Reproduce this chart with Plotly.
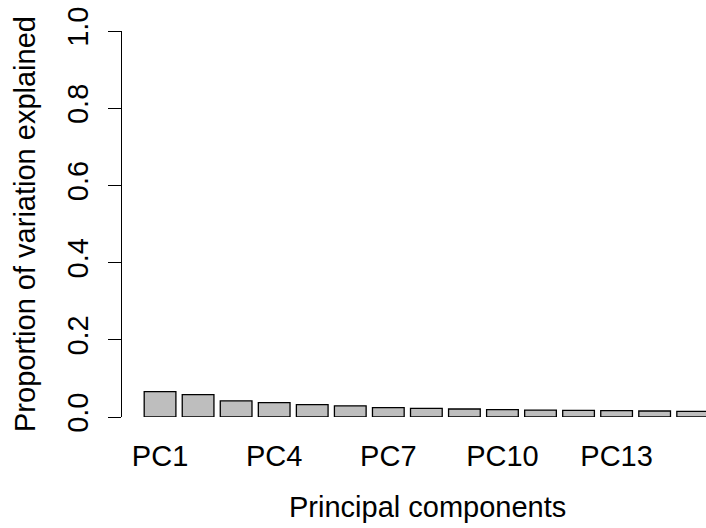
import plotly.graph_objects as go

# Scree data: proportion of variance explained by each principal component
components = [f"PC{i}" for i in range(1, 16)]
prop_var = [0.0655, 0.058, 0.042, 0.037, 0.032, 0.029, 0.0245, 0.0225,
            0.0207, 0.019, 0.018, 0.0173, 0.0164, 0.0155, 0.0147]

# Only every third component name is labelled on the x axis
x_tick_labels = components[::3]
y_tick_values = [0.0, 0.2, 0.4, 0.6, 0.8, 1.0]
y_tick_labels = ["0.0", "0.2", "0.4", "0.6", "0.8", "1.0"]

FONT = "Liberation Sans, Arial, Helvetica, sans-serif"
FS = 29

fig = go.Figure(
    go.Bar(
        x=components,
        y=prop_var,
        marker=dict(color="#bebebe", line=dict(color="black", width=1.3)),
        showlegend=False,
    )
)

fig.update_layout(
    width=706,
    height=528,
    margin=dict(l=122, r=0, t=31, b=111),
    paper_bgcolor="white",
    plot_bgcolor="white",
    bargap=1 / 6,
    font=dict(family=FONT, size=FS, color="black"),
    xaxis=dict(
        type="category",
        range=[-1.0, 14.35],
        tickmode="array",
        tickvals=x_tick_labels,
        ticktext=x_tick_labels,
        showline=False,
        showgrid=False,
        zeroline=False,
        ticks="",
        ticklabelstandoff=19,
        tickfont=dict(family=FONT, size=FS, color="black"),
    ),
    yaxis=dict(
        range=[0, 1],
        tickmode="array",
        tickvals=y_tick_values,
        ticktext=y_tick_labels,
        tickangle=-90,
        ticks="outside",
        ticklen=13,
        tickwidth=1,
        tickcolor="black",
        showline=True,
        linecolor="black",
        linewidth=1,
        showgrid=False,
        zeroline=False,
        ticklabelstandoff=8,
        tickfont=dict(family=FONT, size=FS, color="black"),
    ),
    annotations=[
        dict(
            text="Principal components",
            x=427, y=507, xref="paper", yref="paper",
            showarrow=False,
            font=dict(family=FONT, size=FS, color="black"),
        ),
        dict(
            text="Proportion of variation explained",
            x=25, y=224, xref="paper", yref="paper",
            textangle=-90,
            showarrow=False,
            font=dict(family=FONT, size=FS, color="black"),
        ),
    ],
)

# Annotation positions above are given in pixels; convert them to paper units
plot_w = 706 - 122 - 0
plot_h = 528 - 31 - 111
for ann in fig.layout.annotations:
    px, py = ann.x, ann.y
    ann.x = (px - 122) / plot_w
    ann.y = (528 - 111 - py) / plot_h
    ann.xanchor = "center"
    ann.yanchor = "middle"

fig.write_html("out.html")
